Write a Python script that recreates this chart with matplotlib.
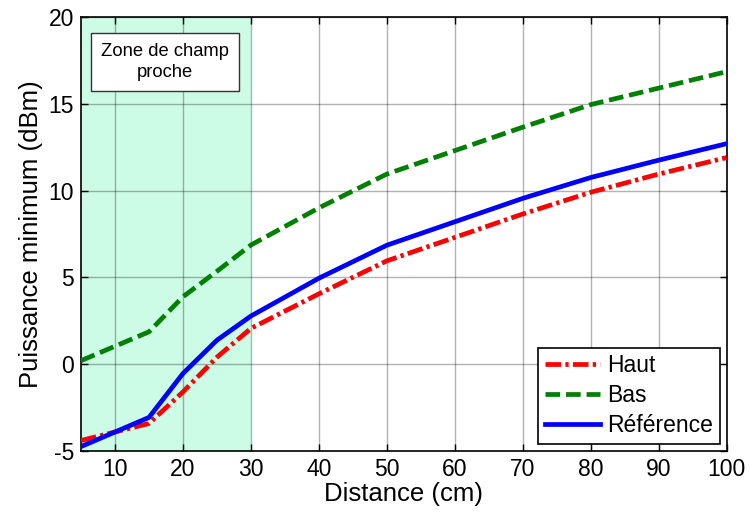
import matplotlib
matplotlib.use("Agg")
import matplotlib.pyplot as plt

plt.rcParams['font.family'] = ['Liberation Sans', 'DejaVu Sans']
plt.rcParams['axes.unicode_minus'] = False

distance = [5, 15, 20, 25, 30, 40, 50, 60, 70, 80, 90, 100]
haut = [-4.4, -3.42, -1.6, 0.4, 2.06, 4.05, 5.95, 7.3, 8.65, 9.9, 10.95, 11.9]
bas = [0.2, 1.86, 3.88, 5.35, 6.86, 9.0, 10.95, 12.3, 13.65, 14.95, 15.9, 16.85]
reference = [-4.75, -3.07, -0.54, 1.38, 2.77, 4.95, 6.85, 8.2, 9.55, 10.75, 11.75, 12.7]

near_field = (5, 30)
xticks = [10, 20, 30, 40, 50, 60, 70, 80, 90, 100]
yticks = [-5, 0, 5, 10, 15, 20]

fig = plt.figure(figsize=(7.5, 5.13), dpi=100)
ax = fig.add_axes([0.108, 0.121, 0.861, 0.846])

ax.axvspan(near_field[0], near_field[1], color='#ccfbe6', zorder=0, lw=0)

LW = 3.4
ax.plot(distance, haut, color='#ff0000', lw=LW, dashes=(3.3, 0.9, 0.7, 0.9), label='Haut', zorder=3)
ax.plot(distance, bas, color='#008000', lw=LW, dashes=(3.1, 1.25), label='Bas', zorder=3)
ax.plot(distance, reference, color='#0000ff', lw=LW, label='Référence', zorder=4)

ax.set_xlim(5, 100)
ax.set_ylim(-5, 20)
ax.set_xticks(xticks)
ax.set_yticks(yticks)
ax.grid(True, color='#000000', alpha=0.3, lw=1)
ax.set_axisbelow(True)
ax.tick_params(direction='in', top=True, right=True, labelsize=16.5, length=5, width=1, pad=5)
for s in ax.spines.values():
    s.set_linewidth(1.2)

ax.set_xlabel('Distance (cm)', fontsize=18.5, labelpad=1)
ax.set_ylabel('Puissance minimum (dBm)', fontsize=18.5, labelpad=4)

ax.text(17.4, 17.4, 'Zone de champ\nproche', ha='center', va='center', fontsize=13.2,
        linespacing=1.3,
        bbox=dict(boxstyle='square,pad=0.55', fc='white', ec='#333333', lw=1), zorder=5)

leg = ax.legend(loc='lower right', fontsize=16.5, frameon=True, fancybox=False,
                edgecolor='black', framealpha=1, borderaxespad=0.3,
                handlelength=2.4, handletextpad=0.3, labelspacing=0.3,
                borderpad=0.3)
leg.get_frame().set_linewidth(1.2)

fig.savefig('out.png', dpi=100)
